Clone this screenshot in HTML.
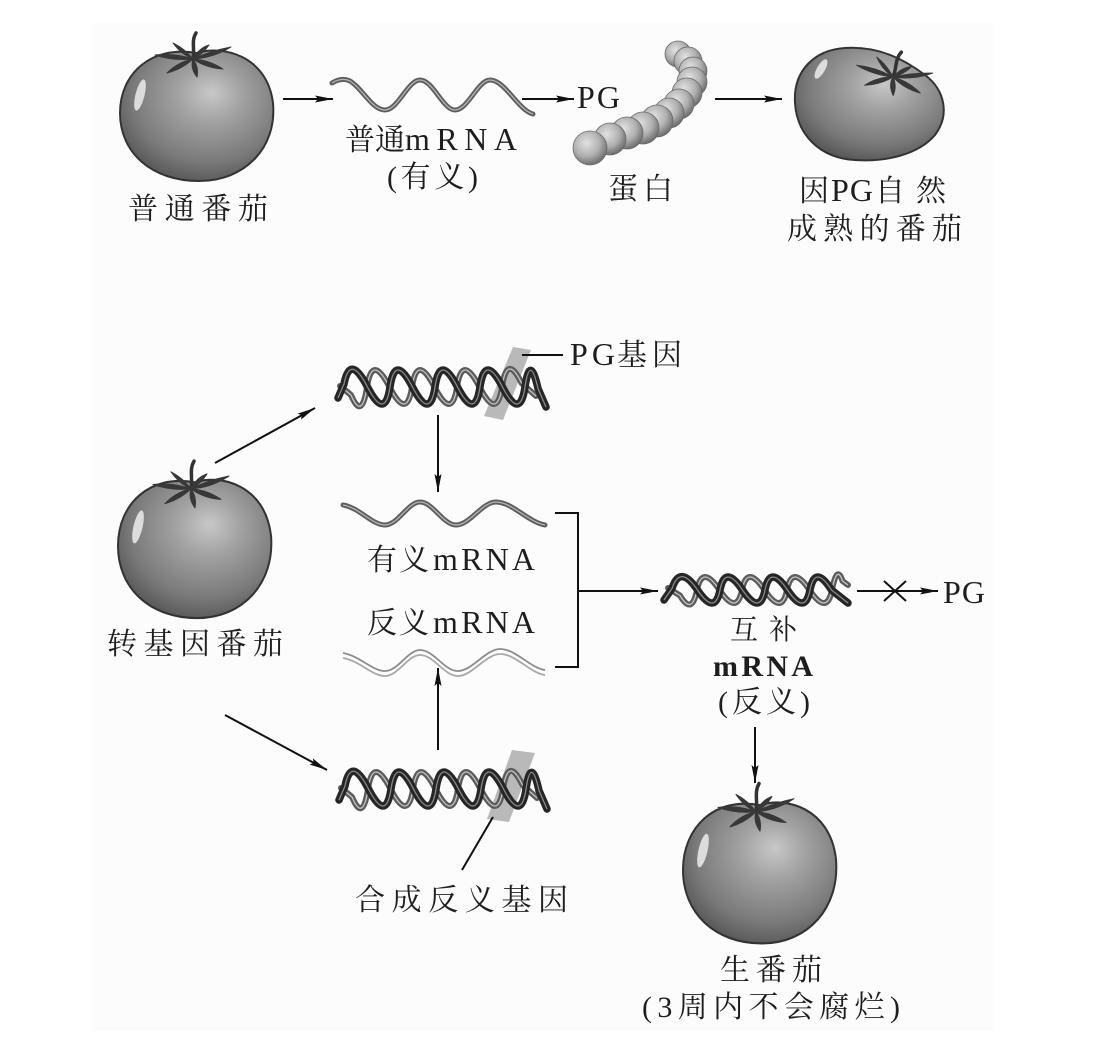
<!DOCTYPE html>
<html><head><meta charset="utf-8">
<style>
html,body{margin:0;padding:0;background:#fff;}
svg{display:block;}
text{font-family:"Liberation Serif","Noto Serif CJK SC",serif;fill:#1e1e1e;font-size:30px;}
.lt{font-size:32px;}
.ln{stroke:#111;stroke-width:2;fill:none;}
.da{fill:none;stroke:#262626;stroke-width:7.5;stroke-linecap:round;stroke-linejoin:round;}
.da2{fill:none;stroke:#8a8a8a;stroke-width:1.3;stroke-linejoin:round;}
.db{fill:none;stroke:#5c5c5c;stroke-width:6;stroke-linecap:round;stroke-linejoin:round;}
.db2{fill:none;stroke:#c4c4c4;stroke-width:1.3;stroke-linejoin:round;}
.rib{fill:none;stroke:#5e5e5e;stroke-width:5;stroke-linecap:round;}
.rib2{fill:none;stroke:#b4b4b4;stroke-width:1.3;}
</style></head><body>
<svg width="1096" height="1045" viewBox="0 0 1096 1045" xmlns="http://www.w3.org/2000/svg">
<defs>
<radialGradient id="tg" cx="0.56" cy="0.38" r="0.7" fx="0.6" fy="0.32">
<stop offset="0" stop-color="#c8c8c8"/>
<stop offset="0.3" stop-color="#a2a2a2"/>
<stop offset="0.7" stop-color="#7a7a7a"/>
<stop offset="1" stop-color="#4c4c4c"/>
</radialGradient>
<radialGradient id="bg" cx="0.4" cy="0.35" r="0.65">
<stop offset="0" stop-color="#e2e2e2"/>
<stop offset="0.6" stop-color="#b0b0b0"/>
<stop offset="1" stop-color="#707070"/>
</radialGradient>
<marker id="ah" markerWidth="18" markerHeight="8" refX="18" refY="4" orient="auto" markerUnits="userSpaceOnUse">
<path d="M0,0.5 L18,4 L0,7.5 L3,4 Z" fill="#111"/>
</marker>
<g id="calyx">
<path d="M0,0 C2,-10 -2,-18 3,-26" stroke="#333" stroke-width="3.5" fill="none" stroke-linecap="round"/>
<g fill="#383838" stroke="#383838" stroke-width="1" stroke-linejoin="round">
<path d="M0,0 Q-18,-6 -38,-4 Q-20,2 0,0Z"/>
<path d="M0,0 Q-15,3 -26,14 Q-11,10 0,0Z"/>
<path d="M0,0 Q-3,9 4,18 Q6,8 0,0Z"/>
<path d="M0,0 Q13,9 30,10 Q16,1 0,0Z"/>
<path d="M0,0 Q20,-1 38,-12 Q17,-8 0,0Z"/>
<path d="M0,0 Q-8,-10 -20,-16 Q-12,-5 0,0Z"/>
<path d="M0,0 Q6,-11 16,-14 Q10,-5 0,0Z"/>
</g>
</g>
<g id="tomato">
<path d="M0,-60 C25,-68 70,-58 76,-10 C80,35 48,68 2,68 C-45,68 -77,40 -77,0 C-77,-40 -45,-68 0,-60 Z" fill="url(#tg)" stroke="#333" stroke-width="2"/>
<ellipse cx="-57" cy="-18" rx="4.5" ry="16" transform="rotate(14 -57 -18)" fill="#ececec" opacity="0.85"/>
<use href="#calyx" transform="translate(-4,-54)"/>
</g>
<g id="dna">
<path class="db" d="M340,386 L351,395 Q362,421 367,387 Q372,353 389.5,387 Q407,421 412,387 Q417,353 434.5,387 Q452,421 457,387 Q462,353 479.5,387 Q497,421 502,387 Q507,353 521.5,383 L536,396"/>
<path class="db2" d="M340,386 L351,395 Q362,421 367,387 Q372,353 389.5,387 Q407,421 412,387 Q417,353 434.5,387 Q452,421 457,387 Q462,353 479.5,387 Q497,421 502,387 Q507,353 521.5,383 L536,396"/>
<path class="da" d="M338,398 L344,384 Q350,353 367.5,387 Q385,421 390,387 Q395,353 412.5,387 Q430,421 435,387 Q440,353 457.5,387 Q475,421 480,387 Q485,353 502.5,387 Q520,421 525,387 Q530,353 538,388.5 L546,407"/>
<path class="da2" d="M338,398 L344,384 Q350,353 367.5,387 Q385,421 390,387 Q395,353 412.5,387 Q430,421 435,387 Q440,353 457.5,387 Q475,421 480,387 Q485,353 502.5,387 Q520,421 525,387 Q530,353 538,388.5 L546,407"/>
</g>
</defs>

<rect x="92" y="23" width="902" height="1008" fill="#fcfcfc"/>

<!-- ===== TOP ROW ===== -->
<use href="#tomato" transform="translate(197,113)"/>
<text x="128" y="219" textLength="140" lengthAdjust="spacing">普通番茄</text>

<line class="ln" x1="283" y1="99" x2="333" y2="99" marker-end="url(#ah)"/>

<path class="rib" d="M332,83 C340,78 346,79 350,81 C362,88 372,110 385,110 C398,110 408,80 420,80 C433,80 443,110 455,110 C468,110 478,80 490,80 C505,80 518,110 533,114"/>
<path class="rib2" d="M332,83 C340,78 346,79 350,81 C362,88 372,110 385,110 C398,110 408,80 420,80 C433,80 443,110 455,110 C468,110 478,80 490,80 C505,80 518,110 533,114"/>
<text x="345" y="150" textLength="60" lengthAdjust="spacing">普通</text>
<text x="405" y="150" class="lt" textLength="112" lengthAdjust="spacing">mRNA</text>
<text x="387" y="187" textLength="91" lengthAdjust="spacing">(有义)</text>

<line class="ln" x1="522" y1="99" x2="574" y2="99" marker-end="url(#ah)"/>
<text x="577" y="108" class="lt" textLength="43" lengthAdjust="spacing">PG</text>

<!-- protein -->
<g fill="url(#bg)" stroke="#6a6a6a" stroke-width="0.8">
<circle cx="678" cy="54" r="13"/>
<circle cx="688" cy="61" r="14"/>
<circle cx="693" cy="71" r="14"/>
<circle cx="692" cy="82" r="15"/>
<circle cx="687" cy="93" r="15"/>
<circle cx="679" cy="104" r="15"/>
<circle cx="669" cy="113" r="15"/>
<circle cx="657" cy="121" r="16"/>
<circle cx="643" cy="128" r="16"/>
<circle cx="627" cy="133" r="16"/>
<circle cx="610" cy="139" r="16"/>
<circle cx="590" cy="148" r="17"/>
</g>
<text x="608" y="199" textLength="65" lengthAdjust="spacing">蛋白</text>

<line class="ln" x1="715" y1="99" x2="782" y2="99" marker-end="url(#ah)"/>

<!-- ripe tomato -->
<path d="M795,103 C793,70 815,50 845,48 C880,46 905,60 925,75 C945,90 950,115 935,135 C918,155 885,162 855,160 C820,158 797,135 795,103 Z" fill="url(#tg)" stroke="#333" stroke-width="2"/>
<ellipse cx="821" cy="69" rx="4" ry="11" transform="rotate(30 821 69)" fill="#ececec" opacity="0.85"/>
<use href="#calyx" transform="translate(893,77) rotate(12)"/>
<text x="799" y="201">因</text>
<text x="831" y="201" class="lt" textLength="42" lengthAdjust="spacing">PG</text>
<text x="875" y="201">自</text>
<text x="916" y="201">然</text>
<text x="787" y="239" textLength="175" lengthAdjust="spacing">成熟的番茄</text>

<!-- ===== BOTTOM ===== -->
<!-- DNA 1 -->
<polygon points="513,347 531,350 503,420 484,416" fill="#b9b9b9"/>
<use href="#dna"/>
<line class="ln" x1="522" y1="355" x2="563" y2="355"/>
<text x="570" y="365" class="lt" textLength="45" lengthAdjust="spacing">PG</text>
<text x="617" y="365" textLength="65" lengthAdjust="spacing">基因</text>

<!-- tomato 3 -->
<use href="#tomato" transform="translate(195,546) scale(1,1.06)"/>
<text x="107" y="654" textLength="176" lengthAdjust="spacing">转基因番茄</text>
<line class="ln" x1="215" y1="463" x2="315" y2="408" marker-end="url(#ah)"/>

<line class="ln" x1="438" y1="415" x2="438" y2="492" marker-end="url(#ah)"/>

<!-- sense mRNA -->
<path class="rib" d="M343,505 C360,508 372,525 385,525 C398,525 408,502 420,502 C433,502 443,525 456,525 C470,525 482,502 496,502 C512,502 528,522 545,525"/>
<path class="rib2" d="M343,505 C360,508 372,525 385,525 C398,525 408,502 420,502 C433,502 443,525 456,525 C470,525 482,502 496,502 C512,502 528,522 545,525"/>
<text x="367" y="570" textLength="62" lengthAdjust="spacing">有义</text>
<text x="433" y="570" class="lt" textLength="102" lengthAdjust="spacing">mRNA</text>
<text x="367" y="633" textLength="62" lengthAdjust="spacing">反义</text>
<text x="433" y="633" class="lt" textLength="102" lengthAdjust="spacing">mRNA</text>

<!-- antisense mRNA -->
<path d="M343,653 C360,656 372,671 385,671 C398,671 408,650 420,650 C434,650 444,671 458,671 C472,671 486,649 500,649 C516,649 530,668 545,670" fill="none" stroke="#8c8c8c" stroke-width="1.8"/>
<path d="M343,658 C360,661 372,676 385,676 C398,676 408,655 420,655 C434,655 444,676 458,676 C472,676 486,654 500,654 C516,654 530,673 545,675" fill="none" stroke="#a8a8a8" stroke-width="1.8"/>

<!-- bracket -->
<polyline class="ln" points="555,513 578,513 578,667 555,667"/>
<line class="ln" x1="578" y1="591" x2="658" y2="591" marker-end="url(#ah)"/>

<!-- DNA 3 -->
<path class="db" d="M668,588 L680,595.5 Q692,616 697,590 Q702,564 719.5,590 Q737,616 742,590 Q747,564 764.5,590 Q782,616 787,590 Q792,564 809.5,590 Q827,616 832,590 Q837,564 842.5,581 L848,585"/>
<path class="db2" d="M668,588 L680,595.5 Q692,616 697,590 Q702,564 719.5,590 Q737,616 742,590 Q747,564 764.5,590 Q782,616 787,590 Q792,564 809.5,590 Q827,616 832,590 Q837,564 842.5,581 L848,585"/>
<path class="da" d="M664,600 L672,588.5 Q680,564 697.5,590 Q715,616 720,590 Q725,564 742.5,590 Q760,616 765,590 Q770,564 787.5,590 Q805,616 810,590 Q815,564 831.5,590 L848,603"/>
<path class="da2" d="M664,600 L672,588.5 Q680,564 697.5,590 Q715,616 720,590 Q725,564 742.5,590 Q760,616 765,590 Q770,564 787.5,590 Q805,616 810,590 Q815,564 831.5,590 L848,603"/>

<line class="ln" x1="857" y1="591" x2="938" y2="591" marker-end="url(#ah)"/>
<line class="ln" x1="884" y1="581" x2="906" y2="601"/>
<line class="ln" x1="884" y1="601" x2="906" y2="581"/>
<text x="943" y="603" class="lt" textLength="42" lengthAdjust="spacing">PG</text>

<text x="730" y="639" style="font-size:28px" textLength="67" lengthAdjust="spacing">互补</text>
<text x="713" y="676" font-weight="bold" textLength="100" lengthAdjust="spacing">mRNA</text>
<text x="718" y="712" textLength="92" lengthAdjust="spacing">(反义)</text>

<line class="ln" x1="755" y1="727" x2="755" y2="783" marker-end="url(#ah)"/>

<!-- tomato 4 -->
<use href="#tomato" transform="translate(760,870) scale(1,1.08)"/>
<text x="720" y="980" textLength="102" lengthAdjust="spacing">生番茄</text>
<text x="642" y="1017" textLength="258" lengthAdjust="spacing">(3周内不会腐烂)</text>

<!-- lower path -->
<line class="ln" x1="225" y1="715" x2="327" y2="770" marker-end="url(#ah)"/>
<line class="ln" x1="438" y1="750" x2="438" y2="668" marker-end="url(#ah)"/>

<!-- DNA 2 -->
<polygon points="512,750 535,753 509,822 487,819" fill="#b9b9b9"/>
<use href="#dna" transform="translate(1,402)"/>
<line class="ln" x1="493" y1="817" x2="462" y2="870"/>
<text x="355" y="910" textLength="213" lengthAdjust="spacing">合成反义基因</text>
</svg>
</body></html>
